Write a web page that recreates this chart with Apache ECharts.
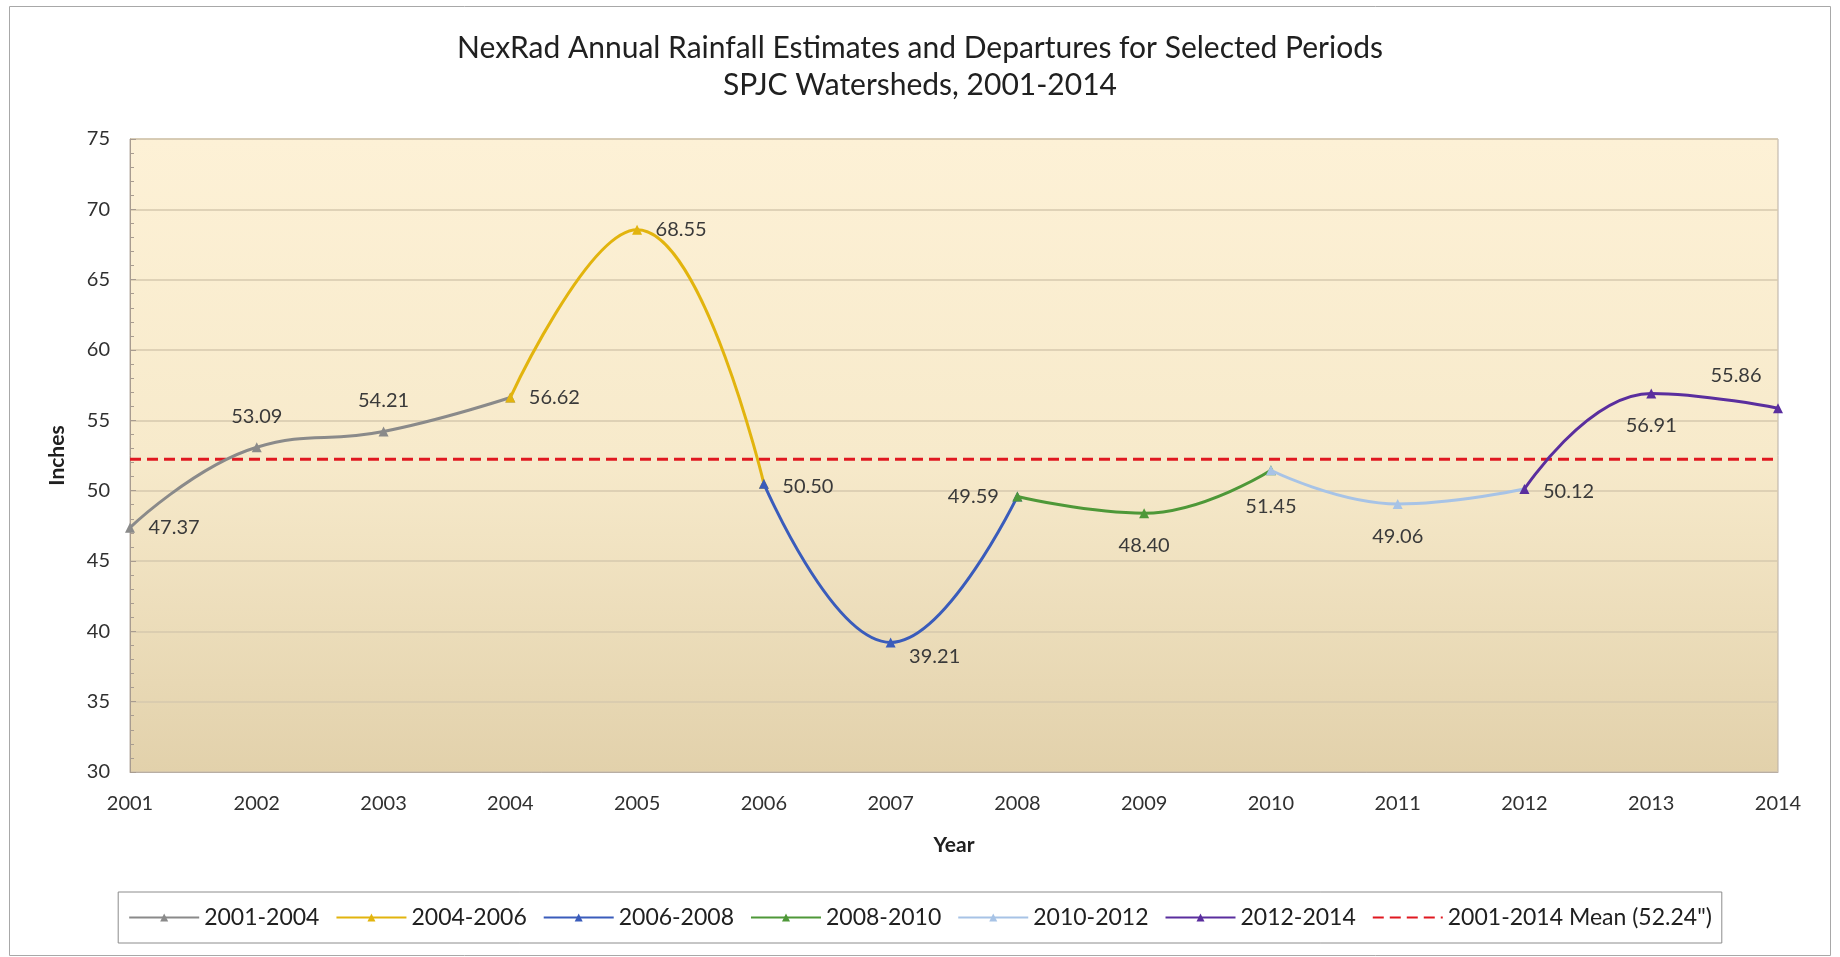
<!DOCTYPE html>
<html>
<head>
<meta charset="utf-8">
<script src="https://cdn.jsdelivr.net/npm/echarts@6/dist/echarts.min.js"></script>
<style>
html,body{margin:0;padding:0;background:#fff;}
#chart{width:1840px;height:957px;}
</style>
</head>
<body>
<div id="chart"></div>
<script>
const years = ['2001','2002','2003','2004','2005','2006','2007','2008','2009','2010','2011','2012','2013','2014'];
const rainfall = [47.37, 53.09, 54.21, 56.62, 68.55, 50.50, 39.21, 49.59, 48.40, 51.45, 49.06, 50.12, 56.91, 55.86];
const periodNames = ['2001-2004','2004-2006','2006-2008','2008-2010','2010-2012','2012-2014'];
const periodStart = ['2001','2004','2006','2008','2010','2012'];
const periodEnd   = ['2004','2006','2008','2010','2012','2014'];
const periodColors = ['#8A8A8A','#E2B40E','#3A5CBB','#4E9838','#A7C3E6','#5A2E9E'];
const meanValue = 52.24;
const meanName = '2001-2014 Mean (52.24")';
const yTicks = [30,35,40,45,50,55,60,65,70,75];
const titleLine1 = 'NexRad Annual Rainfall Estimates and Departures for Selected Periods';
const titleLine2 = 'SPJC Watersheds, 2001-2014';
// label placement per point (style only)
const labelPlace = [
  {position:'right', distance:18},
  {position:'top', distance:20},
  {position:'top', distance:20},
  {position:'right', distance:18},
  {position:'right', distance:18},
  {position:'right', distance:18, offset:[0,3]},
  {position:'right', distance:18, offset:[0,14]},
  {position:'left', distance:18},
  {position:'bottom', distance:22},
  {position:'bottom', distance:26},
  {position:'bottom', distance:22},
  {position:'right', distance:18, offset:[0,3]},
  {position:'bottom', distance:22},
  {position:'top', distance:22, offset:[-42,0]}
];

const FONT = 'Lato, "Open Sans", sans-serif';

const chart = echarts.init(document.getElementById('chart'));

const series = periodNames.map((name, k) => {
  const a = years.indexOf(periodStart[k]);
  const b = years.indexOf(periodEnd[k]);
  return {
    name: name,
    type: 'line',
    smooth: 0.45,
    connectNulls: false,
    symbol: 'triangle',
    symbolSize: 10,
    showSymbol: true,
    z: 3 + k,
    color: periodColors[k],
    itemStyle: {color: periodColors[k]},
    lineStyle: {color: periodColors[k], width: 3},
    data: rainfall.map((v, i) => (i >= a && i <= b) ? v : null)
  };
});

series.push({
  name: meanName,
  type: 'line',
  symbol: 'none',
  color: '#E01820',
  lineStyle: {color: '#E01820', width: 3, type: [11, 6]},
  z: 2,
  data: years.map(() => meanValue)
});

series.push({
  name: 'labels',
  type: 'line',
  symbol: 'circle',
  symbolSize: 1,
  showSymbol: true,
  itemStyle: {color: 'rgba(0,0,0,0)'},
  lineStyle: {width: 0, opacity: 0},
  z: 20,
  silent: true,
  data: rainfall.map((v, i) => ({
    value: v,
    label: Object.assign({show: true}, labelPlace[i])
  })),
  label: {
    show: true,
    formatter: p => p.value.toFixed(2),
    fontFamily: FONT,
    fontSize: 20,
    color: '#3A3A3A'
  }
});

const titleStyle = {fontFamily: FONT, fontSize: 30, fontWeight: 'normal', color: '#202020'};

const option = {
  animation: false,
  backgroundColor: '#ffffff',
  textStyle: {fontFamily: FONT},
  title: [
    {text: titleLine1, left: 'center', top: 28, textStyle: titleStyle},
    {text: titleLine2, left: 'center', top: 65, textStyle: titleStyle}
  ],
  graphic: [{
    type: 'rect',
    shape: {x: 9.5, y: 6.5, width: 1821, height: 949},
    style: {fill: 'none', stroke: '#A8A8A8', lineWidth: 1},
    silent: true,
    z: -10
  }],
  grid: {
    left: 130, right: 62, top: 139, bottom: 185,
    show: true,
    borderColor: '#B8AEA4',
    borderWidth: 1,
    backgroundColor: new echarts.graphic.LinearGradient(0, 0, 0, 1, [
      {offset: 0, color: '#FDF1D6'},
      {offset: 0.5, color: '#F7EACB'},
      {offset: 1, color: '#E2D1AB'}
    ])
  },
  legend: {
    data: periodNames.map(n => ({name: n})).concat([{name: meanName, itemStyle: {color: 'rgba(0,0,0,0)', borderWidth: 0}}]),
    left: 'center',
    top: 892,
    itemWidth: 70,
    itemHeight: 10,
    itemGap: 16,
    padding: [14, 10, 14, 10],
    borderColor: '#8C8C8C',
    borderWidth: 1,
    textStyle: {fontFamily: FONT, fontSize: 23, color: '#202020'}
  },
  xAxis: {
    type: 'category',
    data: years,
    boundaryGap: false,
    name: 'Year',
    nameLocation: 'middle',
    nameGap: 63,
    nameTextStyle: {fontFamily: FONT, fontSize: 21, fontWeight: 'bold', color: '#202020'},
    axisLine: {show: true, lineStyle: {color: '#B8AEA4', width: 1}},
    axisTick: {show: false},
    axisLabel: {fontFamily: FONT, fontSize: 20, color: '#303030', margin: 22},
    splitLine: {show: false}
  },
  yAxis: {
    type: 'value',
    min: yTicks[0],
    max: yTicks[yTicks.length - 1],
    interval: 5,
    name: 'Inches',
    nameLocation: 'middle',
    nameGap: 62,
    nameRotate: 90,
    nameTextStyle: {fontFamily: FONT, fontSize: 21, fontWeight: 'bold', color: '#202020'},
    axisLine: {show: true, lineStyle: {color: '#A89C90', width: 1}},
    axisTick: {show: true, inside: true, length: 6, lineStyle: {color: '#A89C90'}},
    minorTick: {show: true, splitNumber: 5, length: 4, lineStyle: {color: '#A89C90'}},
    axisLabel: {fontFamily: FONT, fontSize: 20, color: '#303030', margin: 20},
    splitLine: {show: true, lineStyle: {color: '#D6C9AE', width: 1.5}}
  },
  series: series
};

chart.setOption(option);
</script>
</body>
</html>
